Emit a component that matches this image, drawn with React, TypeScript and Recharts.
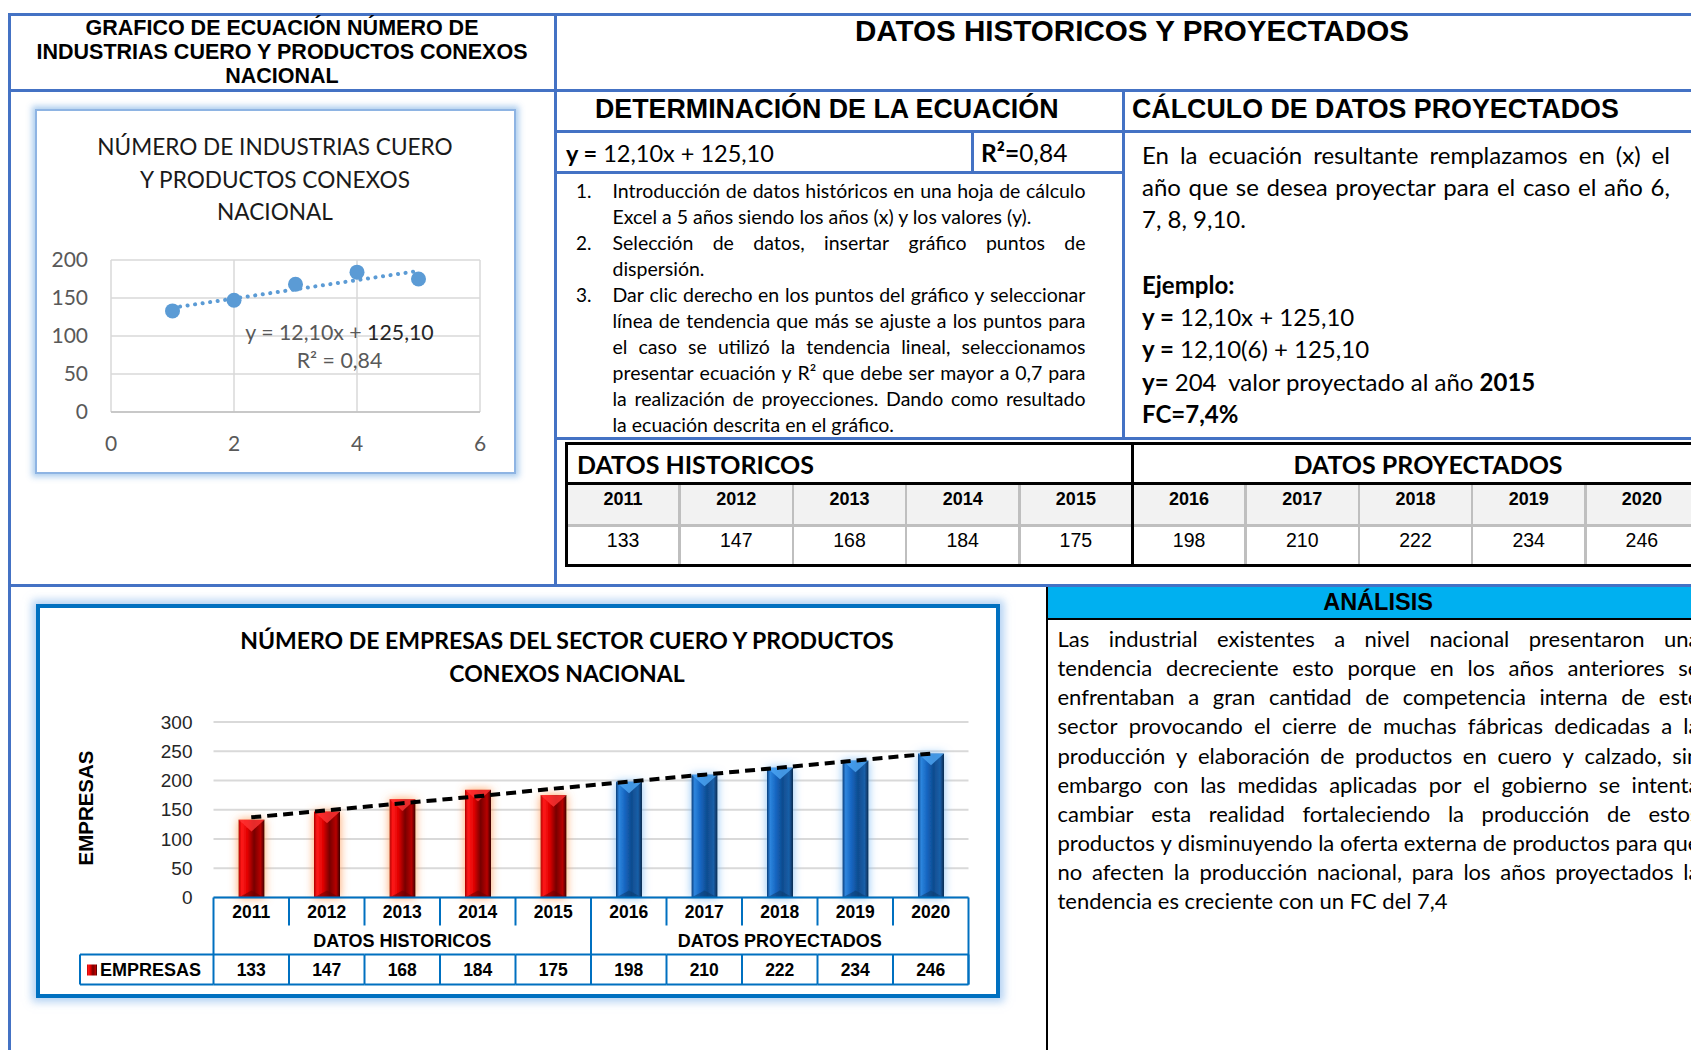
import React from "react";
import {
  ScatterChart,
  Scatter,
  ComposedChart,
  Bar,
  Line,
  XAxis,
  YAxis,
  CartesianGrid,
} from "recharts";

// ---- data ----
const years = [2011, 2012, 2013, 2014, 2015, 2016, 2017, 2018, 2019, 2020];
const empresas = [133, 147, 168, 184, 175, 198, 210, 222, 234, 246];
// dashed trend line
const tendencia = [137, 149, 161, 173, 186, 198, 210, 222, 234, 246];
const groups = ["DATOS HISTORICOS", "DATOS PROYECTADOS"];
const groupOf = [0, 0, 0, 0, 0, 1, 1, 1, 1, 1];

const scatterX = [1, 2, 3, 4, 5];
const scatterY = [133, 147, 168, 184, 175];
const scatterXTicks = [0, 2, 4, 6];
const scatterYTicks = [0, 50, 100, 150, 200];
const barYTicks = [0, 50, 100, 150, 200, 250, 300];

const scatterData = scatterX.map((x, i) => ({ x, y: scatterY[i] }));
const barData = years.map((year, i) => ({
  year,
  value: empresas[i],
  trend: tendencia[i],
  group: groupOf[i],
}));

// ---- styles ----
const ARIAL = "'Liberation Sans', Arial, sans-serif";
const CAL = "Lato, 'Open Sans', sans-serif";
const BLUE = "#4472C4";
const TBL = "#0070C0";

const BAR_W = 964;
const BAR_H = 394;
const BAR_M = { top: 118, right: 31.5, bottom: 13.5, left: 0 };
const BAR_YW = 177.5;
const CELL_W = (BAR_W - BAR_YW - BAR_M.right - BAR_M.left) / years.length;

const hl = (x1: number, x2: number, y: number, w = 3, c = BLUE) => (
  <div
    style={{ position: "absolute", left: x1, top: y - w / 2, width: x2 - x1, height: w, background: c }}
  />
);
const vl = (x: number, y1: number, y2: number, w = 3, c = BLUE) => (
  <div
    style={{ position: "absolute", left: x - w / 2, top: y1, width: w, height: y2 - y1, background: c }}
  />
);

function Txt(props: {
  x: number;
  cy: number;
  w?: number;
  size: number;
  lh?: number;
  font?: string;
  bold?: boolean;
  align?: "left" | "center";
  color?: string;
  justify?: boolean;
  children: React.ReactNode;
}) {
  const lh = props.lh ?? props.size * 1.3;
  const w = props.w ?? 0;
  const base: React.CSSProperties = {
    position: "absolute",
    left: props.align === "center" ? props.x - w / 2 : props.x,
    top: props.cy - lh / 2,
    width: w || undefined,
    height: lh,
    lineHeight: `${lh}px`,
    fontSize: props.size,
    fontFamily: props.font ?? CAL,
    fontWeight: props.bold ? 700 : 400,
    color: props.color ?? "#000",
    whiteSpace: "nowrap",
    textAlign: props.align ?? "left",
  };
  if (props.justify && typeof props.children === "string") {
    return (
      <div style={{ ...base, display: "flex", justifyContent: "space-between" }}>
        {props.children.split(" ").map((wd, i) => (
          <span key={i}>{wd}</span>
        ))}
      </div>
    );
  }
  return <div style={base}>{props.children}</div>;
}

function BevelBar(p: any) {
  const { x, y, width: w, height: h, payload } = p;
  if (!(h > 0)) return null;
  const id = payload.group === 1 ? "Blue" : "Red";
  const b = Math.min(w * 0.45, h / 2);
  return (
    <g filter={`url(#glow${id})`}>
      <rect x={x} y={y} width={w} height={h} fill={`url(#grad${id})`} />
      <polygon
        points={`${x},${y} ${x + w},${y} ${x + w / 2},${y + b}`}
        fill={id === "Blue" ? "#4FA8F5" : "#FF3535"}
        opacity={0.8}
      />
      <polygon
        points={`${x},${y + h} ${x + w},${y + h} ${x + w / 2},${y + h - b * 0.6}`}
        fill={id === "Blue" ? "#0E3C6E" : "#6A0000"}
        opacity={0.55}
      />
    </g>
  );
}

function TableTick(p: any) {
  const { x, y, index } = p;
  const i: number = index;
  const n = years.length;
  const l = x - CELL_W / 2;
  const r = x + CELL_W / 2;
  const r1 = 28;
  const r2 = 57;
  const r3 = 87;
  const firstOfGroup = i > 0 && groupOf[i] !== groupOf[i - 1];
  const members = groupOf.map((g, k) => (g === groupOf[i] ? k : -1)).filter((k) => k >= 0);
  const isMiddle = members[Math.floor(members.length / 2)] === i && members.length % 2 === 1;
  const ln = { stroke: TBL, strokeWidth: 2 };
  const legL = l - 133.5;
  return (
    <g>
      <line x1={r} y1={y} x2={r} y2={y + (i === n - 1 ? r3 : r1)} {...ln} />
      {(i === 0 || firstOfGroup) && <line x1={l} y1={y} x2={l} y2={y + r3} {...ln} />}
      <line x1={r} y1={y + r2} x2={r} y2={y + r3} {...ln} />
      <line x1={l} y1={y + r2} x2={r} y2={y + r2} {...ln} />
      <line x1={l} y1={y + r3} x2={r} y2={y + r3} {...ln} />
      <text x={x} y={y + 14.5} textAnchor="middle" dominantBaseline="central" fontFamily={ARIAL} fontWeight={700} fontSize={17.5} fill="#000">
        {years[i]}
      </text>
      <text x={x} y={y + 72.5} textAnchor="middle" dominantBaseline="central" fontFamily={ARIAL} fontWeight={700} fontSize={17.5} fill="#000">
        {empresas[i]}
      </text>
      {isMiddle && (
        <text x={x} y={y + 43} textAnchor="middle" dominantBaseline="central" fontFamily={ARIAL} fontWeight={700} fontSize={18} fill="#000">
          {groups[groupOf[i]]}
        </text>
      )}
      {i === 0 && (
        <g>
          <line x1={legL} y1={y + r2} x2={l} y2={y + r2} {...ln} />
          <line x1={legL} y1={y + r3} x2={l} y2={y + r3} {...ln} />
          <line x1={legL} y1={y + r2} x2={legL} y2={y + r3} {...ln} />
          <rect x={legL + 7} y={y + 67} width={10} height={11} fill="url(#gradRed)" />
          <text x={legL + 20} y={y + 72.5} dominantBaseline="central" fontFamily={ARIAL} fontWeight={700} fontSize={18} fill="#000">
            EMPRESAS
          </text>
        </g>
      )}
    </g>
  );
}

const listLines: { t: string; j: boolean; n?: string }[] = [
  { t: "Introducción de datos históricos en una hoja de cálculo", j: true, n: "1." },
  { t: "Excel a 5 años siendo los años (x) y los valores (y).", j: false },
  { t: "Selección de datos, insertar gráfico puntos de", j: true, n: "2." },
  { t: "dispersión.", j: false },
  { t: "Dar clic derecho en los puntos del gráfico y seleccionar", j: true, n: "3." },
  { t: "línea de tendencia que más se ajuste a los puntos para", j: true },
  { t: "el caso se utilizó la tendencia lineal, seleccionamos", j: true },
  { t: "presentar ecuación y R² que debe ser mayor a 0,7 para", j: true },
  { t: "la realización de proyecciones. Dando como resultado", j: true },
  { t: "la ecuación descrita en el gráfico.", j: false },
];

const analisisLines = [
  "Las industrial existentes a nivel nacional presentaron una",
  "tendencia decreciente esto porque en los años anteriores se",
  "enfrentaban a gran cantidad de competencia interna de este",
  "sector provocando el cierre de muchas fábricas dedicadas a la",
  "producción y elaboración de productos en cuero y calzado, sin",
  "embargo con las medidas aplicadas por el gobierno se intenta",
  "cambiar esta realidad fortaleciendo la producción de estos",
  "productos y disminuyendo la oferta externa de productos para que",
  "no afecten la producción nacional, para los años proyectados la",
  "tendencia es creciente con un FC del 7,4",
];

const COL_W = 113.2;
const TBL_L = 566.5;

export default function App() {
  return (
    <div
      style={{
        position: "absolute",
        left: 0,
        top: 0,
        width: 1691,
        height: 1050,
        overflow: "hidden",
        background: "#fff",
        fontFamily: CAL,
      }}
    >
      {/* frame */}
      {hl(8, 1691, 14.5)}
      {vl(9, 13, 1050)}
      {hl(8, 1691, 90.5)}
      {vl(555.5, 13, 587)}
      {hl(555, 1691, 131.5)}
      {vl(1123, 90, 440)}
      {hl(555, 1123, 172.5)}
      {vl(972, 131, 173)}
      {hl(555, 1691, 438.5)}
      {hl(8, 1691, 585.5)}

      {/* header left */}
      {["GRAFICO DE ECUACIÓN NÚMERO DE", "INDUSTRIAS CUERO Y PRODUCTOS CONEXOS", "NACIONAL"].map((t, i) => (
        <Txt key={i} x={282} cy={28 + i * 24} w={540} size={21.5} lh={24} font={ARIAL} bold align="center">
          {t}
        </Txt>
      ))}
      <Txt x={1132} cy={31} w={700} size={29.6} lh={34} font={ARIAL} bold align="center">
        DATOS HISTORICOS Y PROYECTADOS
      </Txt>
      <Txt x={595} cy={109} size={26.8} lh={32} font={ARIAL} bold>
        DETERMINACIÓN DE LA ECUACIÓN
      </Txt>
      <Txt x={1132} cy={109} size={26.8} lh={32} font={ARIAL} bold>
        CÁLCULO DE DATOS PROYECTADOS
      </Txt>
      <Txt x={566} cy={153} size={23.5} lh={30}>
        <b>y =</b> 12,10x + 125,10
      </Txt>
      <Txt x={981} cy={153} size={24.5} lh={30}>
        <b>R²=</b>0,84
      </Txt>

      {/* procedure list */}
      {listLines.map((ln, i) => (
        <React.Fragment key={i}>
          {ln.n && (
            <Txt x={576} cy={190 + i * 26.1} size={19} lh={25}>
              {ln.n}
            </Txt>
          )}
          <Txt x={612.5} cy={190 + i * 26.1} w={473} size={19.5} lh={25} justify={ln.j}>
            {ln.t}
          </Txt>
        </React.Fragment>
      ))}

      {/* right explanation */}
      <Txt x={1142} cy={154} w={528} size={24} lh={31} justify>
        En la ecuación resultante remplazamos en (x) el
      </Txt>
      <Txt x={1142} cy={186} w={528} size={24} lh={31} justify>
        año que se desea proyectar para el caso el año 6,
      </Txt>
      <Txt x={1142} cy={218} size={24} lh={31}>
        7, 8, 9,10.
      </Txt>
      <Txt x={1142} cy={284} size={24} lh={31} bold>
        Ejemplo:
      </Txt>
      <Txt x={1142} cy={316} size={24} lh={31}>
        <b>y =</b> 12,10x + 125,10
      </Txt>
      <Txt x={1142} cy={348} size={24} lh={31}>
        <b>y =</b> 12,10(6) + 125,10
      </Txt>
      <Txt x={1142} cy={381} size={24} lh={31}>
        <b>y=</b> 204{"\u00a0"} valor proyectado al año <b>2015</b>
      </Txt>
      <Txt x={1142} cy={413} size={24} lh={31} bold>
        FC=7,4%
      </Txt>

      {/* data table */}
      <div style={{ position: "absolute", left: TBL_L, top: 485, width: 1691 - TBL_L, height: 40, background: "#F2F2F2" }} />
      {hl(TBL_L - 1.5, 1691, 443.5, 3, "#000")}
      {hl(TBL_L - 1.5, 1691, 483.5, 3, "#000")}
      {hl(TBL_L, 1691, 525.5, 3, "#BFBFBF")}
      {hl(TBL_L - 1.5, 1691, 565.5, 3, "#000")}
      {vl(TBL_L, 442, 567, 3, "#000")}
      {years.map((yr, i) => {
        const cx = TBL_L + (i + 0.5) * COL_W;
        const right = TBL_L + (i + 1) * COL_W;
        return (
          <React.Fragment key={yr}>
            {i < years.length - 1 && groupOf[i + 1] === groupOf[i] && vl(right, 485, 564, 2.5, "#BFBFBF")}
            <Txt x={cx} cy={499} w={COL_W} size={18} lh={24} font={ARIAL} bold align="center">
              {yr}
            </Txt>
            <Txt x={cx} cy={540} w={COL_W} size={19.5} lh={26} font={ARIAL} align="center">
              {empresas[i]}
            </Txt>
          </React.Fragment>
        );
      })}
      {vl(TBL_L + 5 * COL_W, 442, 567, 3, "#000")}
      <Txt x={577} cy={464} size={25} lh={32} bold>
        {groups[0]}
      </Txt>
      <Txt x={1428} cy={464} w={400} size={25} lh={32} bold align="center">
        {groups[1]}
      </Txt>

      {/* scatter chart */}
      <div
        style={{
          position: "absolute",
          left: 35,
          top: 109,
          width: 481,
          height: 365,
          boxSizing: "border-box",
          border: "2.5px solid #8EB4E3",
          boxShadow: "0 0 6px 3px rgba(160,198,235,0.85)",
        }}
      />
      {["NÚMERO DE INDUSTRIAS CUERO", "Y PRODUCTOS CONEXOS", "NACIONAL"].map((t, i) => (
        <Txt key={i} x={275} cy={147 + i * 32.5} w={460} size={22.6} lh={32} align="center" color="#1a1a1a">
          {t}
        </Txt>
      ))}
      <div style={{ position: "absolute", left: 35, top: 109 }}>
        <ScatterChart width={481} height={365} margin={{ top: 151, right: 36, bottom: 0, left: 0 }}>
          <CartesianGrid stroke="#D9D9D9" strokeWidth={1.5} />
          <XAxis
            type="number"
            dataKey="x"
            domain={[0, 6]}
            ticks={scatterXTicks}
            height={62}
            tickSize={0}
            tickMargin={24.5}
            axisLine={{ stroke: "#BFBFBF", strokeWidth: 1.5 }}
            tick={{ fill: "#595959", fontSize: 21, fontFamily: CAL }}
          />
          <YAxis
            type="number"
            dataKey="y"
            domain={[0, 200]}
            ticks={scatterYTicks}
            width={76}
            tickSize={0}
            tickMargin={23}
            axisLine={false}
            tick={{ fill: "#595959", fontSize: 21, fontFamily: CAL }}
          />
          <Scatter
            data={scatterData}
            fill="#5B9BD5"
            isAnimationActive={false}
            line={{ stroke: "#5B9BD5", strokeWidth: 4, strokeDasharray: "0.1 7.5", strokeLinecap: "round" }}
            lineType="fitting"
            shape={(p: any) => <circle cx={p.cx} cy={p.cy} r={7.5} fill="#5B9BD5" />}
          />
        </ScatterChart>
      </div>
      <Txt x={339.5} cy={332} w={260} size={21.3} lh={26} align="center" color="#595959">
        y = 12,10x + <span style={{ color: "#262626" }}>125,10</span>
      </Txt>
      <Txt x={339.5} cy={360} w={200} size={21.3} lh={26} align="center" color="#595959">
        R² = 0,84
      </Txt>

      {/* bar chart */}
      <div
        style={{
          position: "absolute",
          left: 35.5,
          top: 604,
          width: 964.5,
          height: 393.5,
          boxSizing: "border-box",
          border: "4px solid #0070C0",
          boxShadow: "0 0 8px 4px rgba(130,180,235,0.6)",
        }}
      />
      <Txt x={567} cy={639.5} w={900} size={23} lh={30} bold align="center">
        NÚMERO DE EMPRESAS DEL SECTOR CUERO Y PRODUCTOS
      </Txt>
      <Txt x={567} cy={673} w={900} size={23} lh={30} bold align="center">
        CONEXOS NACIONAL
      </Txt>
      <div
        style={{
          position: "absolute",
          left: 86 - 70,
          top: 808 - 15,
          width: 140,
          height: 30,
          lineHeight: "30px",
          textAlign: "center",
          transform: "rotate(-90deg)",
          fontFamily: ARIAL,
          fontWeight: 700,
          fontSize: 20.5,
          color: "#000",
        }}
      >
        EMPRESAS
      </div>
      <div style={{ position: "absolute", left: 36, top: 604 }}>
        <ComposedChart width={BAR_W} height={BAR_H} data={barData} margin={BAR_M}>
          <defs>
            <linearGradient id="gradRed" x1="0" y1="0" x2="1" y2="0">
              <stop offset="0" stopColor="#B00000" />
              <stop offset="0.12" stopColor="#FF1A1A" />
              <stop offset="0.35" stopColor="#E00000" />
              <stop offset="0.6" stopColor="#780000" />
              <stop offset="0.85" stopColor="#B80000" />
              <stop offset="1" stopColor="#3A0000" />
            </linearGradient>
            <linearGradient id="gradBlue" x1="0" y1="0" x2="1" y2="0">
              <stop offset="0" stopColor="#0B3D7A" />
              <stop offset="0.12" stopColor="#2E86DE" />
              <stop offset="0.35" stopColor="#1565C0" />
              <stop offset="0.6" stopColor="#0F4C8F" />
              <stop offset="0.85" stopColor="#1A5FA8" />
              <stop offset="1" stopColor="#0A2A4F" />
            </linearGradient>
            <filter id="glowRed" x="-80%" y="-20%" width="260%" height="140%">
              <feDropShadow dx="0" dy="0" stdDeviation="5" floodColor="#FF9A55" floodOpacity="0.9" />
            </filter>
            <filter id="glowBlue" x="-80%" y="-20%" width="260%" height="140%">
              <feDropShadow dx="0" dy="0" stdDeviation="5" floodColor="#7DBBF5" floodOpacity="0.9" />
            </filter>
          </defs>
          <CartesianGrid vertical={false} stroke="#D9D9D9" strokeWidth={2} />
          <XAxis
            dataKey="year"
            height={87}
            interval={0}
            tickSize={0}
            tickMargin={0}
            axisLine={{ stroke: TBL, strokeWidth: 2 }}
            tick={<TableTick />}
          />
          <YAxis
            domain={[0, 300]}
            ticks={barYTicks}
            width={BAR_YW}
            tickSize={0}
            tickMargin={21}
            axisLine={false}
            tick={{ fill: "#262626", fontSize: 19, fontFamily: ARIAL }}
          />
          <Bar dataKey="value" barSize={26} shape={<BevelBar />} isAnimationActive={false} />
          <Line
            dataKey="trend"
            stroke="#000"
            strokeWidth={4}
            strokeDasharray="10 6"
            dot={false}
            activeDot={false}
            isAnimationActive={false}
          />
        </ComposedChart>
      </div>

      {/* análisis */}
      <div
        style={{
          position: "absolute",
          left: 1046,
          top: 587,
          width: 645,
          height: 31,
          background: "#00B0F0",
          borderBottom: "2.5px solid #000",
        }}
      />
      {vl(1046.5, 587, 1050, 2, "#000")}
      <Txt x={1378} cy={602} w={300} size={23.5} lh={30} font={ARIAL} bold align="center">
        ANÁLISIS
      </Txt>
      {analisisLines.map((t, i) => (
        <Txt
          key={i}
          x={1057.5}
          cy={639.3 + i * 29.05}
          w={642}
          size={22}
          lh={28}
          justify={i < analisisLines.length - 1}
        >
          {t}
        </Txt>
      ))}
    </div>
  );
}
